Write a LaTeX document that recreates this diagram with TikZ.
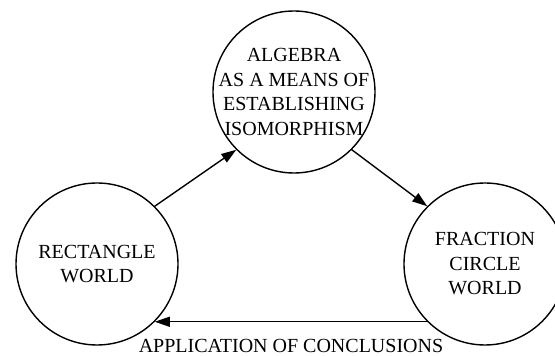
\documentclass[tikz,border=0pt]{standalone}
\usepackage{fontspec}
\setmainfont{Liberation Serif}
\usetikzlibrary{arrows.meta,positioning}

\begin{document}
\begin{tikzpicture}[x=1pt, y=1pt, >={Triangle[length=15pt,width=10pt]},
    w/.style={circle, draw, line width=1.4pt, minimum size=162pt, inner sep=-8pt, align=center, font=\fontsize{20}{24.5}\selectfont},
    lbl/.style={inner sep=0pt, font=\fontsize{20}{24.5}\selectfont},
    ar/.style={line width=1.4pt,->}]
    \useasboundingbox (0,0) rectangle (555,356);
    \node [w] (alg) at (294,264) {ALGEBRA\\AS A MEANS OF\\ESTABLISHING\\ISOMORPHISM};
    \node [w] (rw) at (97,92) {RECTANGLE\\WORLD};
    \node [w] (fcw) at (485,92) {FRACTION\\CIRCLE\\WORLD};
    \draw [ar] (rw.45) -- (alg.225);
    \draw [ar] (alg.315) -- (fcw.135);
    \draw [ar] (fcw.225) -- (rw.315) node [lbl, midway, below=17pt] {APPLICATION OF CONCLUSIONS};
\end{tikzpicture}
\end{document}
